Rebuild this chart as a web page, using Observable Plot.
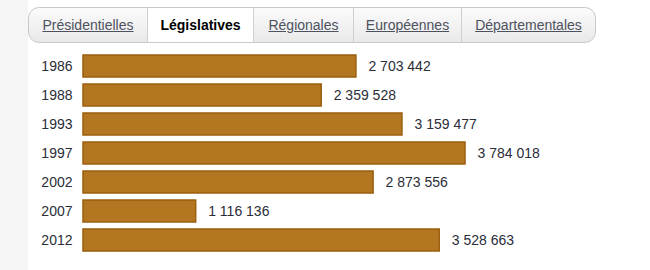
<!DOCTYPE html>
<html>
<head>
<meta charset="utf-8">
<script src="https://cdn.jsdelivr.net/npm/d3@7"></script>
<script src="https://cdn.jsdelivr.net/npm/@observablehq/plot@0.6"></script>
<style>
  html, body { margin: 0; padding: 0; background: #fff; width: 650px; height: 270px; overflow: hidden; font-family: "Liberation Sans", Arial, Helvetica, sans-serif; }
  #strip { position: absolute; left: 0; top: 0; width: 28px; height: 270px; background: #f5f5f5; }
  #tabs { position: absolute; left: 28px; top: 7px; width: 566px; height: 34px; border: 1px solid #c9c9c9; border-radius: 11px;
          background: linear-gradient(#fbfbfb, #e9e9e9); display: flex; overflow: hidden; box-sizing: content-box; }
  .tab { height: 34px; line-height: 35px; font-size: 14px; text-align: center; color: #4e5260; text-decoration: underline; border-right: 1px solid #cfcfcf; box-sizing: border-box; }
  .tab.active { background: #fff; color: #000; font-weight: bold; text-decoration: none; }
  .tab:last-child { border-right: none; }
  #chart { position: absolute; left: 0; top: 46px; }
</style>
</head>
<body>
<div id="strip"></div>
<div id="tabs"></div>
<div id="chart"></div>
<script>
const tabLabels = ["Présidentielles", "Législatives", "Régionales", "Européennes", "Départementales"];
const activeTab = "Législatives";
const years = ["1986", "1988", "1993", "1997", "2002", "2007", "2012"];
const votes = [2703442, 2359528, 3159477, 3784018, 2873556, 1116136, 3528663];

const tabWidths = [119, 106, 100, 108, 133];
const tabs = document.getElementById("tabs");
tabLabels.forEach((t, i) => {
  const d = document.createElement("div");
  d.className = "tab" + (t === activeTab ? " active" : "");
  d.style.width = tabWidths[i] + "px";
  d.textContent = t;
  tabs.appendChild(d);
});

const data = years.map((y, i) => ({year: y, value: votes[i]}));
const fmt = d3.formatLocale({decimal: ",", thousands: " ", grouping: [3], currency: ["", " €"]}).format(",d");

const chart = Plot.plot({
  width: 650,
  height: 220,
  marginLeft: 83,
  marginRight: 185,
  marginTop: 4,
  marginBottom: 11,
  style: {fontFamily: "'Liberation Sans', Arial, Helvetica, sans-serif", fontSize: "14px", color: "#2b2d38", background: "transparent"},
  x: {domain: [0, d3.max(votes)], axis: null},
  y: {domain: years, paddingInner: 0.25, paddingOuter: 0.125, label: null, tickSize: 0, tickPadding: 11},
  marks: [
    Plot.barX(data, {x: "value", y: "year", fill: "#b37722", stroke: "#9a5e0e", strokeWidth: 1.5, inset: 0}),
    Plot.text(data, {x: "value", y: "year", text: d => fmt(d.value), textAnchor: "start", dx: 12, fill: "#2b2d38", fontSize: 14})
  ]
});
document.getElementById("chart").appendChild(chart);
</script>
</body>
</html>
